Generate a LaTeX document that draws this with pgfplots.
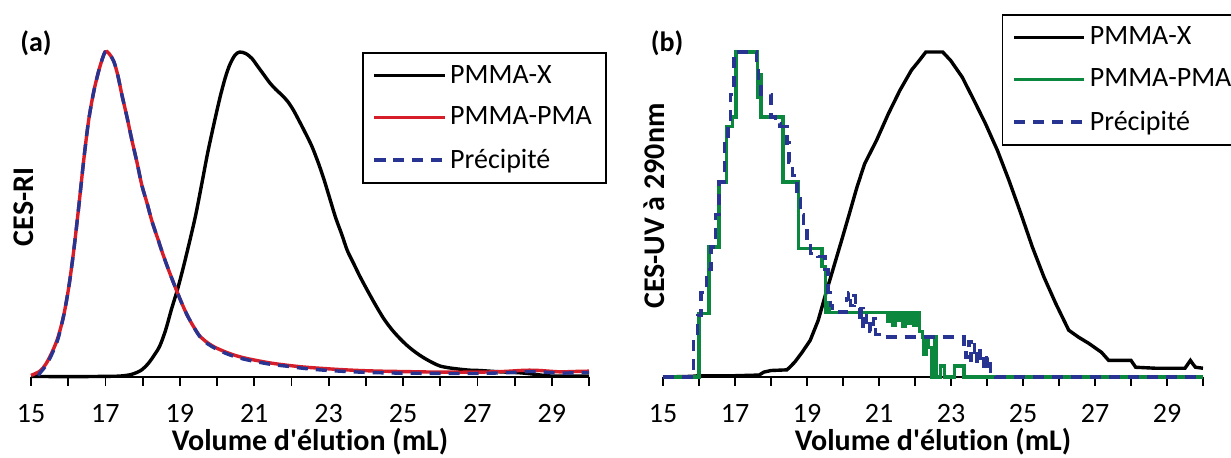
\documentclass[border=0pt]{standalone}
\usepackage{pgfplots}
\pgfplotsset{compat=1.18}
\usepackage{fontspec}
\setmainfont{Carlito}[Ligatures={TeX,NoCommon}]
\definecolor{cred}{RGB}{213,30,41}
\definecolor{cgreen}{RGB}{12,135,62}
\definecolor{cblue}{RGB}{40,52,145}
\tikzset{lw/.style={line width=1.7pt}, dsh/.style={dash pattern=on 5.5pt off 4pt}}
\pgfplotsset{
  common/.style={
    scale only axis, clip=false,
    xmin=15, xmax=30, ymin=0, ymax=1.037,
    axis x line*=bottom, hide y axis,
    axis line style={line width=1pt},
    xtick={15,...,30},
    xticklabels={15,,17,,19,,21,,23,,25,,27,,29,},
    tick align=outside, major tick length=4.5pt,
    tick style={line width=0.9pt, black},
    /pgf/number format/assume math mode=true,
    ticklabel style={font=\fontsize{14}{16}\selectfont},
    xticklabel shift=5.5pt,
    xlabel={\bfseries Volume d\textquotesingle élution (mL)},
    xlabel style={font=\fontsize{15}{17}\selectfont, yshift=4pt},
    legend cell align=left,
    legend style={draw=black, line width=0.9pt, font=\fontsize{14}{16}\selectfont,
      anchor=north west, inner xsep=5pt, inner ysep=4pt, row sep=6.5pt},
    legend image code/.code={\draw[#1] plot coordinates {(0pt,0pt) (35pt,0pt)};},
  }
}
\begin{document}
\begin{tikzpicture}
\useasboundingbox (0,0) rectangle (615.5pt,228.5pt);
% ---------- panel (a)
\begin{axis}[common, at={(15.5pt,40pt)}, anchor=south west, width=279pt, height=168.5pt,
  legend style={at={(0.593,0.964)}}]
\addplot[black, lw, smooth] coordinates {
(15,0.002)(16,0.001)(17,0.002)(17.4,0.003)(17.7,0.008)(17.95,0.02)(18.14,0.04)(18.3,0.065)(18.46,0.095)(18.62,0.145)(18.78,0.21)(18.94,0.27)(19.1,0.34)(19.27,0.42)(19.43,0.50)(19.6,0.60)(19.75,0.69)(19.92,0.78)(20.08,0.86)(20.22,0.92)(20.34,0.96)(20.48,0.99)(20.61,1.0)(20.78,0.995)(20.94,0.98)(21.1,0.955)(21.26,0.93)(21.42,0.905)(21.58,0.885)(21.74,0.868)(21.9,0.848)(22.05,0.822)(22.2,0.79)(22.38,0.75)(22.55,0.71)(22.72,0.66)(22.87,0.61)(23.03,0.55)(23.19,0.49)(23.35,0.44)(23.5,0.39)(23.67,0.35)(23.84,0.31)(24.05,0.265)(24.27,0.22)(24.48,0.18)(24.7,0.146)(24.92,0.118)(25.13,0.095)(25.35,0.075)(25.56,0.059)(25.78,0.045)(25.99,0.034)(26.25,0.028)(26.53,0.024)(26.8,0.021)(27.06,0.02)(27.6,0.016)(28.14,0.013)(28.57,0.008)(29,0.003)(30,0.003)};
\addlegendentry{PMMA-X}
\addplot[cred, lw, smooth] coordinates {
(15,0.005)(15.24,0.018)(15.4,0.04)(15.56,0.075)(15.72,0.12)(15.88,0.19)(16.02,0.28)(16.15,0.39)(16.28,0.52)(16.42,0.67)(16.55,0.79)(16.69,0.88)(16.84,0.95)(16.99,1.0)(17.1,0.995)(17.23,0.97)(17.34,0.925)(17.44,0.87)(17.58,0.80)(17.71,0.73)(17.85,0.66)(17.98,0.59)(18.12,0.535)(18.25,0.48)(18.41,0.425)(18.57,0.37)(18.73,0.32)(18.9,0.27)(19.05,0.228)(19.2,0.19)(19.37,0.155)(19.54,0.126)(19.75,0.105)(19.97,0.09)(20.23,0.077)(20.5,0.066)(20.8,0.057)(21.15,0.049)(21.5,0.042)(21.9,0.036)(22.3,0.031)(22.76,0.027)(23.3,0.023)(23.84,0.02)(24.4,0.018)(24.9,0.017)(26,0.015)(27.06,0.015)(27.7,0.017)(28.14,0.02)(28.4,0.021)(28.68,0.02)(29.2,0.016)(29.6,0.017)(30,0.018)};
\addlegendentry{PMMA-PMA}
\addplot[cblue, lw, dsh, smooth] coordinates {
(15.2,0.004)(15.24,0.012)(15.4,0.035)(15.56,0.07)(15.72,0.115)(15.88,0.19)(16.02,0.28)(16.15,0.39)(16.28,0.52)(16.42,0.67)(16.55,0.79)(16.69,0.88)(16.84,0.95)(16.99,1.0)(17.1,0.995)(17.23,0.97)(17.34,0.925)(17.44,0.87)(17.58,0.80)(17.71,0.73)(17.85,0.66)(17.98,0.59)(18.12,0.535)(18.25,0.48)(18.41,0.425)(18.57,0.37)(18.73,0.32)(18.9,0.27)(19.05,0.228)(19.2,0.19)(19.37,0.155)(19.54,0.124)(19.75,0.102)(19.97,0.087)(20.23,0.073)(20.5,0.062)(20.8,0.053)(21.15,0.045)(21.5,0.038)(21.9,0.033)(22.3,0.027)(22.76,0.022)(23.3,0.018)(23.84,0.015)(24.4,0.013)(24.9,0.012)(26,0.011)(27.06,0.011)(27.7,0.013)(28.14,0.015)(28.4,0.017)(28.68,0.016)(29.2,0.012)(29.6,0.013)(30,0.014)};
\addlegendentry{Précipité}
\end{axis}
% ---------- panel (b)
\begin{axis}[common, at={(331.5pt,40pt)}, anchor=south west, width=270pt, height=168.5pt,
  legend style={at={(0.627,1.077)}}]
\addplot[black, lw, sharp plot] coordinates {
(15,0)(15.8,0.002)(16,0.004)(17,0.004)(17.67,0.006)(17.8,0.015)(18.0,0.02)(18.44,0.022)(18.52,0.03)(18.66,0.046)(18.87,0.077)(19.09,0.113)(19.31,0.174)(19.52,0.256)(19.74,0.338)(19.96,0.42)(20.17,0.50)(20.39,0.585)(20.6,0.656)(20.93,0.728)(21.26,0.81)(21.58,0.882)(21.9,0.944)(22.12,0.974)(22.3,1.0)(22.77,1.0)(22.99,0.974)(23.31,0.923)(23.64,0.851)(23.96,0.779)(24.29,0.697)(24.61,0.605)(24.94,0.503)(25.26,0.40)(25.58,0.308)(25.91,0.226)(26.27,0.144)(26.55,0.122)(26.82,0.104)(27.18,0.076)(27.38,0.051)(28.0,0.051)(28.13,0.03)(28.68,0.027)(29.5,0.027)(29.58,0.04)(29.65,0.051)(29.72,0.04)(29.79,0.03)(30,0.027)};
\addlegendentry{PMMA-X}
\addplot[cgreen, lw, const plot] coordinates {
(15,0)(16.0,0.195)(16.28,0.40)(16.55,0.60)(16.76,0.77)(16.93,0.80)(17.03,1.0)(17.63,0.86)(17.68,0.93)(17.72,0.80)(18.33,0.60)(18.77,0.395)(19.42,0.34)(19.52,0.198)(19.58,0.23)(19.62,0.198)(21.25,0.17)(21.3,0.198)(21.38,0.16)(21.45,0.198)(21.52,0.175)(21.6,0.198)(21.65,0.155)(21.72,0.198)(21.8,0.165)(21.88,0.198)(21.95,0.16)(22.05,0.198)(22.12,0.14)(22.2,0.123)(22.25,0.07)(22.3,0.123)(22.38,0.09)(22.45,0)(22.55,0.123)(22.6,0)(22.7,0.034)(22.82,0)(23.1,0.034)(23.36,0)(30,0)};
\addlegendentry{PMMA-PMA}
\addplot[cblue, lw, dsh, const plot] coordinates {
(15,0)(15.85,0.12)(15.95,0.19)(16.05,0.26)(16.2,0.33)(16.33,0.40)(16.45,0.50)(16.55,0.60)(16.7,0.73)(16.8,0.78)(16.87,0.87)(16.97,0.98)(17.03,1.0)(17.6,0.96)(17.65,0.90)(17.72,0.87)(17.9,0.87)(18.0,0.80)(18.12,0.78)(18.25,0.77)(18.44,0.72)(18.5,0.66)(18.6,0.62)(18.72,0.55)(18.82,0.50)(18.9,0.45)(19.0,0.41)(19.1,0.38)(19.3,0.37)(19.5,0.33)(19.58,0.26)(19.65,0.22)(19.7,0.2)(20.1,0.24)(20.15,0.26)(20.2,0.22)(20.3,0.25)(20.35,0.23)(20.45,0.17)(20.5,0.21)(20.55,0.15)(20.65,0.19)(20.75,0.14)(20.85,0.18)(20.9,0.13)(21.0,0.123)(23.36,0.09)(23.42,0.06)(23.5,0.11)(23.55,0.05)(23.65,0.10)(23.72,0.04)(23.8,0.08)(23.9,0.02)(24.0,0.06)(24.1,0.01)(24.25,0)(30,0)};
\addlegendentry{Précipité}
\end{axis}
% ---------- labels
\node[font=\fontsize{14}{16}\selectfont\bfseries] at (18pt,207pt) {(a)};
\node[font=\fontsize{14}{16}\selectfont\bfseries] at (333.5pt,207pt) {(b)};
\node[font=\fontsize{15}{17}\selectfont\bfseries, rotate=90] at (12pt,125pt) {CES-RI};
\node[font=\fontsize{15}{17}\selectfont\bfseries, rotate=90] at (327pt,125.5pt) {CES-UV à 290nm};
\end{tikzpicture}
\end{document}
